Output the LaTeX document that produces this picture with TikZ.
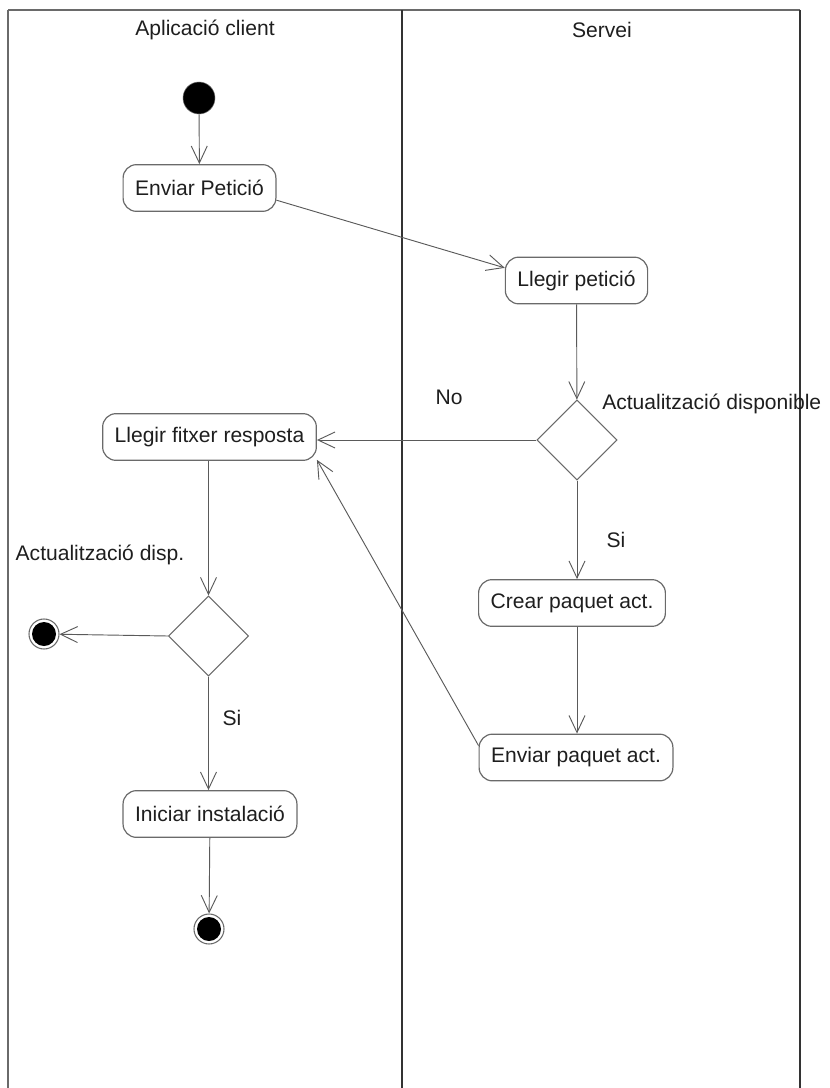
\documentclass[tikz,border=0pt]{standalone}
\usepackage{fontspec}
\setmainfont{Liberation Sans}
\usetikzlibrary{shapes.geometric}
\usetikzlibrary{arrows.meta}
\usetikzlibrary{positioning}
\definecolor{linegray}{HTML}{5A5A5A}
\definecolor{boxgray}{HTML}{6A6A6A}
\definecolor{textgray}{HTML}{1E1E1E}
\tikzset{
  action/.style={rectangle, rounded corners=10pt, draw=boxgray, line width=0.9pt,
    inner xsep=9pt, minimum height=35pt, text=textgray},
  decision/.style={diamond, draw=boxgray, line width=0.8pt, inner sep=0pt,
    minimum width=60pt, minimum height=60pt},
  initial/.style={circle, fill=black, draw=boxgray, minimum size=24pt, inner sep=0pt},
  final/.style={circle, draw=boxgray, fill=white, line width=0.8pt, minimum size=22.5pt,
    inner sep=0pt, path picture={\fill[black] (path picture bounding box.center) circle (9pt);}},
  lbl/.style={text=textgray, inner sep=0pt},
  ctrlflow/.style={draw=linegray, line width=0.7pt, -{Straight Barb[length=12.75pt,width=12pt]}},
}
\begin{document}
\begin{tikzpicture}[x=0.75pt, y=-0.75pt, font=\fontsize{15.8pt}{18pt}\selectfont]
    \useasboundingbox (0,0) rectangle (829,1088);

    % Lanes
    \coordinate (ltop) at (8,10);
    \coordinate (mtop) at (402,10);
    \coordinate (rtop) at (800,10);
    \draw[boxgray, line width=1pt] (ltop) -- (rtop);
    \draw[boxgray, line width=1pt] (ltop) -- (ltop |- 0,1088);
    \draw[black!80, line width=1.5pt] (mtop) -- (mtop |- 0,1088);
    \draw[black!80, line width=1.2pt] (rtop) -- (rtop |- 0,1088);
    \node[lbl] (laneclient) at (205,30) {Aplicació client};
    \node[lbl] (laneservei) at (602,30) {Servei};

    % Client
    \node[initial] (start) at (199,98) {};
    \node[action] (enviar) at (199.5,188) {Enviar Petició};
    \draw[ctrlflow] (start) -- (enviar);

    % Servei
    \node[action] (llegirpet) at (576.5,280.5) {Llegir petició};
    \draw[ctrlflow] (enviar.-9) -- (llegirpet.170);
    \node[decision] (dispserv) at (577,440) {};
    \draw[ctrlflow] (llegirpet) -- (dispserv);
    \node[lbl, anchor=west] (dispservlbl) at (602,404) {Actualització disponible};
    \node[action] (crear) at (572,603) {Crear paquet act.};
    \draw[ctrlflow] (dispserv.south) -- (dispserv.south |- crear.north);
    \node[lbl] (siserv) at (616,540) {Si};
    \node[action] (envpaq) at (576,757.5) {Enviar paquet act.};
    \draw[ctrlflow] (dispserv.south |- crear.south) -- (dispserv.south |- envpaq.north);

    % Resposta
    \node[action] (fitxer) at (209.5,437) {Llegir fitxer resposta};
    \draw[ctrlflow] (dispserv.west) -- (dispserv.west -| fitxer.east);
    \node[lbl] (no) at (449,397) {No};
    \draw[ctrlflow] (envpaq.173) -- (fitxer.-12);

    \node[decision] (dispclient) at (208.5,636) {};
    \draw[ctrlflow] (fitxer.south -| dispclient.north) -- (dispclient.north);
    \node[lbl] (dispclientlbl) at (100,555) {Actualització disp.};
    \node[final] (end1) at (44,634) {};
    \draw[ctrlflow] (dispclient.west) -- (end1);
    \node[lbl] (siclient) at (232,718) {Si};
    \node[action] (iniciar) at (210,814) {Iniciar instalació};
    \draw[ctrlflow] (dispclient.south) -- (dispclient.south |- iniciar.north);
    \node[final] (end2) at (209,929) {};
    \draw[ctrlflow] (iniciar) -- (end2);

\end{tikzpicture}
\end{document}
